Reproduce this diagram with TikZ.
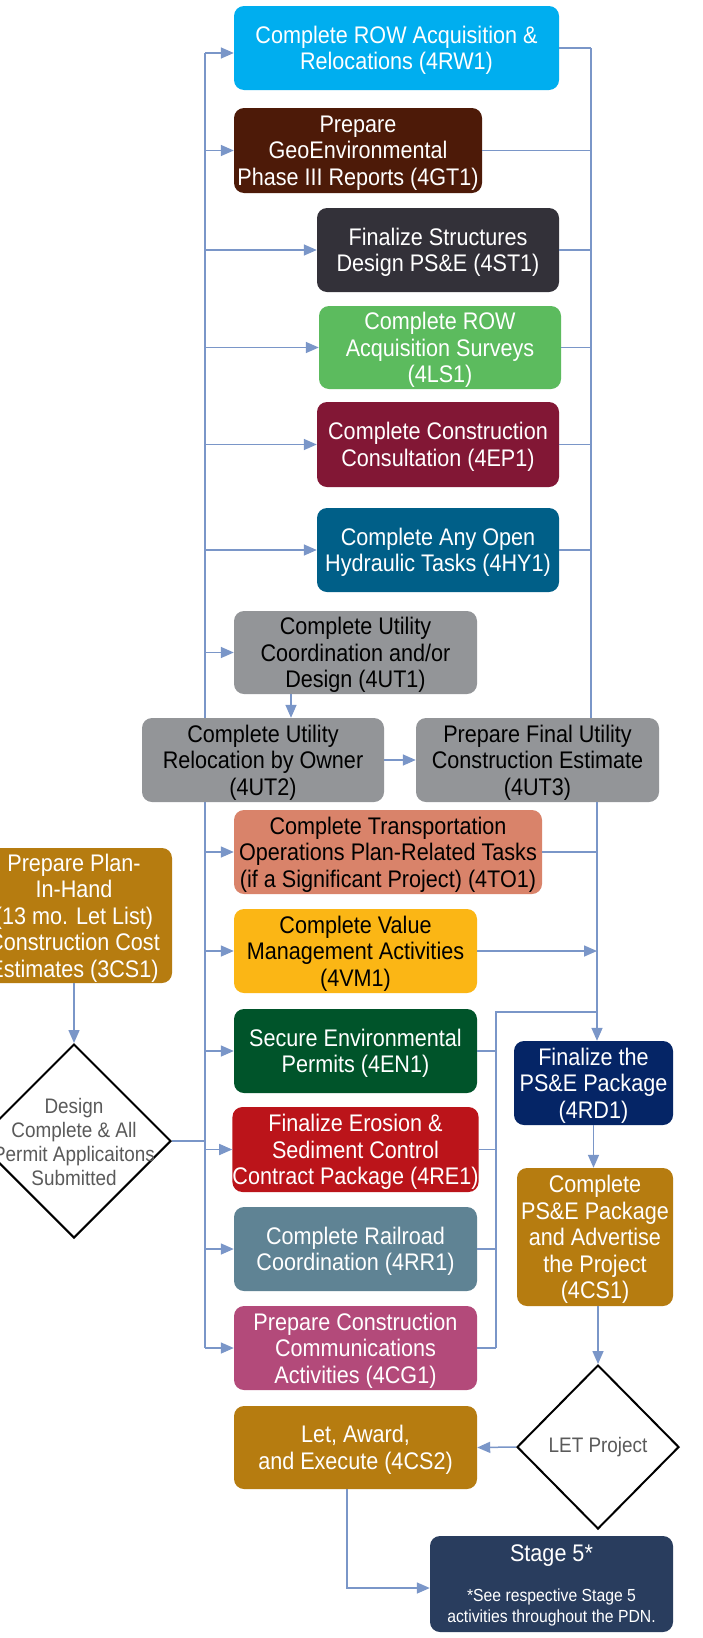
\documentclass[tikz,border=0pt]{standalone}
\usepackage{fontspec}
\setmainfont{Liberation Sans}[FakeStretch=0.9]
\usetikzlibrary{arrows.meta,shapes.geometric}
\definecolor{lineblue}{RGB}{122,150,200}
\definecolor{cRW}{RGB}{0,174,239}
\definecolor{cGT}{RGB}{77,26,8}
\definecolor{cST}{RGB}{51,49,57}
\definecolor{cLS}{RGB}{92,187,94}
\definecolor{cEP}{RGB}{130,23,53}
\definecolor{cHY}{RGB}{0,95,136}
\definecolor{cUT}{RGB}{147,149,152}
\definecolor{cTO}{RGB}{217,131,106}
\definecolor{cVM}{RGB}{251,182,21}
\definecolor{cEN}{RGB}{0,84,42}
\definecolor{cRE}{RGB}{187,20,26}
\definecolor{cRR}{RGB}{95,131,148}
\definecolor{cCG}{RGB}{179,74,122}
\definecolor{cCS}{RGB}{182,124,16}
\definecolor{cRD}{RGB}{5,37,102}
\definecolor{cS5}{RGB}{41,61,94}
\definecolor{dtext}{RGB}{90,90,90}
\tikzset{
  box/.style={rounded corners=10pt, inner sep=0pt, align=center, text=white,
    text depth=0pt, font=\fontsize{24}{26.5}\selectfont},
  dkbox/.style={box, text=black},
  conn/.style={draw=lineblue, line width=1.5pt},
  arr/.style={conn, -{Triangle[length=13pt,width=11pt]}, color=lineblue},
  dia/.style={diamond, draw=black, line width=2pt, fill=white, inner sep=0pt},
  dtxt/.style={align=center, text=dtext, font=\fontsize{21}{24}\selectfont, inner sep=0pt},
}
\begin{document}
\begin{tikzpicture}[x=1pt,y=-1pt]
\useasboundingbox (0,0) rectangle (702,1638);
\fill[white] (0,0) rectangle (702,1638);
\clip (0,0) rectangle (702,1638);

% boxes
\node[box, fill=cRW, minimum width=325pt, minimum height=84pt] (RW1) at (396.5,48) {Complete ROW Acquisition \&\\Relocations (4RW1)};
\node[box, fill=cGT, minimum width=248pt, minimum height=85pt] (GT1) at (358,150.5) {Prepare\\GeoEnvironmental\\Phase III Reports (4GT1)};
\node[box, fill=cST, minimum width=242pt, minimum height=84pt] (ST1) at (438,250) {Finalize Structures\\Design PS\&E (4ST1)};
\node[box, fill=cLS, minimum width=242pt, minimum height=83pt] (LS1) at (440,347.5) {Complete ROW\\Acquisition Surveys\\(4LS1)};
\node[box, fill=cEP, minimum width=242pt, minimum height=85pt] (EP1) at (438,444.5) {Complete Construction\\Consultation (4EP1)};
\node[box, fill=cHY, minimum width=242pt, minimum height=84pt] (HY1) at (438,550) {Complete Any Open\\Hydraulic Tasks (4HY1)};
\node[dkbox, fill=cUT, minimum width=243pt, minimum height=83pt] (UT1) at (355.5,652.5) {Complete Utility\\Coordination and/or\\Design (4UT1)};
\node[dkbox, fill=cUT, minimum width=242pt, minimum height=84pt] (UT2) at (263,760) {Complete Utility\\Relocation by Owner\\(4UT2)};
\node[dkbox, fill=cUT, minimum width=243pt, minimum height=84pt] (UT3) at (537.5,760) {Prepare Final Utility\\Construction Estimate\\(4UT3)};
\node[dkbox, fill=cTO, minimum width=308pt, minimum height=84pt] (TO1) at (388,852) {Complete Transportation\\Operations Plan-Related Tasks\\(if a Significant Project) (4TO1)};
\node[dkbox, fill=cVM, minimum width=243pt, minimum height=84pt] (VM1) at (355.5,951) {Complete Value\\Management Activities\\(4VM1)};
\node[box, fill=cEN, minimum width=243pt, minimum height=84pt] (EN1) at (355.5,1051) {Secure Environmental\\Permits (4EN1)};
\node[box, fill=cRE, minimum width=243pt, minimum height=85pt] (RE1) at (355.5,1149.5) {Finalize Erosion \&\\Sediment Control\\Contract Package (4RE1)};
\node[box, fill=cRR, minimum width=243pt, minimum height=84pt] (RR1) at (355.5,1249) {Complete Railroad\\Coordination (4RR1)};
\node[box, fill=cCG, minimum width=243pt, minimum height=84pt] (CG1) at (355.5,1348) {Prepare Construction\\Communications\\Activities (4CG1)};
\node[box, fill=cCS, minimum width=243pt, minimum height=83pt] (CS2) at (355.5,1447.5) {Let, Award,\\and Execute (4CS2)};
\node[box, fill=cCS, minimum width=196pt, minimum height=135pt] (P3) at (74,915.5) {Prepare Plan-\\In-Hand\\(13 mo. Let List)\\Construction Cost\\Estimates (3CS1)};
\node[box, fill=cRD, minimum width=159pt, minimum height=84pt] (RD1) at (593.5,1083) {Finalize the\\PS\&E Package\\(4RD1)};
\node[box, fill=cCS, minimum width=156pt, minimum height=138pt] (CS1) at (595,1237) {Complete\\PS\&E Package\\and Advertise\\the Project\\(4CS1)};
\node[box, fill=cS5, minimum width=243pt, minimum height=96pt] (S5) at (551.5,1584) {};
\node[text=white, font=\fontsize{24}{26}\selectfont, inner sep=0pt] (S5t) at (551.5,1556) {Stage 5*};
\node[text=white, align=center, font=\fontsize{17.5}{21}\selectfont, inner sep=0pt] (S5s) at (551.5,1607) {*See respective Stage 5\\activities throughout the PDN.};

% diamonds
\node[dia, minimum width=194pt, minimum height=194pt] (D1) at (74,1141) {};
\node[dtxt] (D1t) at (74,1142) {Design\\Complete \& All\\Permit Applicaitons\\Submitted};
\node[dia, minimum width=162pt, minimum height=164pt] (LET) at (598,1447) {};
\node[dtxt] (LETt) at (598,1447) {LET Project};

% trunk coordinates
\coordinate (LTx) at (205,0);
\coordinate (RTx) at (591,0);
\coordinate (RTy) at (597,0);
\coordinate (SB) at (496,1012);
\coordinate (UTa) at (291,0);
\coordinate (C5) at (347,0);
\coordinate (RWin) at ([yshift=-5pt]RW1.west);
\coordinate (S5in) at ([yshift=-4pt]S5.west);

% left trunk (interrupted by UT2 box)
\draw[conn] (LTx |- RWin) -- (LTx |- UT2.north);
\draw[conn] (LTx |- UT2.south) -- (LTx |- CG1.west);
\draw[arr] (RWin -| LTx) -- (RWin);
\foreach \n in {GT1,ST1,LS1,EP1,HY1,UT1,TO1,VM1,EN1,RE1,RR1,CG1}{
  \draw[arr] (\n.west -| LTx) -- (\n.west);
}
\draw[conn] (D1.east) -- (D1.east -| LTx);

% upper right trunk
\foreach \n in {RW1,GT1,ST1,LS1,EP1,HY1}{
  \draw[conn] (\n.east) -- (\n.east -| RTx);
}
\draw[conn] (RW1.east -| RTx) -- (RTx |- UT3.north);

% lower right trunk
\draw[arr] (RTy |- UT3.south) -- (RTy |- RD1.north);
\draw[conn] (TO1.east) -- (TO1.east -| RTy);
\draw[arr] (VM1.east) -- (VM1.east -| RTy);
\draw[conn] (RTy |- SB) -- (SB) -- (SB |- CG1.east);
\foreach \n in {EN1,RE1,RR1,CG1}{
  \draw[conn] (\n.east) -- (\n.east -| SB);
}

% utility chain
\draw[arr] (UTa |- UT1.south) -- (UTa |- UT2.north);
\draw[arr] (UT2.east) -- (UT3.west);

% final chain
\draw[arr] (P3.south) -- (D1.north);
\draw[arr] (RD1.south) -- (RD1.south |- CS1.north);
\draw[arr] (LET.north |- CS1.south) -- (LET.north);
\draw[arr] (LET.west) -- (CS2.east);
\draw[arr] (C5 |- CS2.south) |- (S5in);
\end{tikzpicture}
\end{document}
